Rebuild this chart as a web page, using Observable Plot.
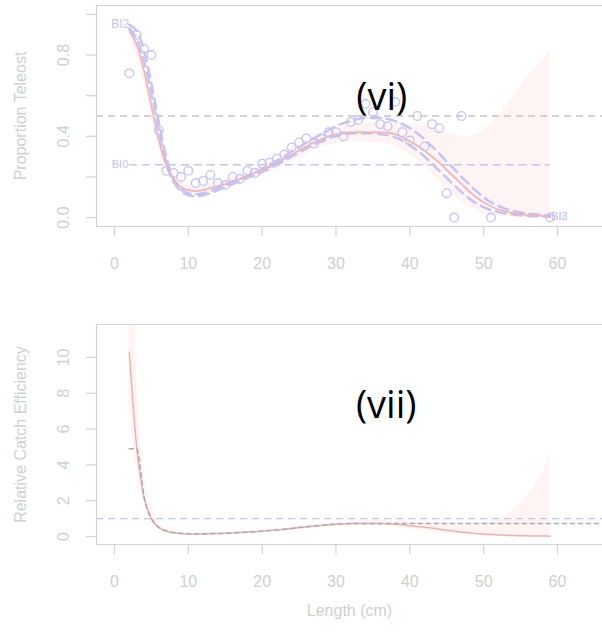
<!DOCTYPE html>
<html><head><meta charset="utf-8">
<script src="https://cdn.jsdelivr.net/npm/d3@7"></script>
<script src="https://cdn.jsdelivr.net/npm/@observablehq/plot@0.6"></script>
<style>
body{margin:0;background:#fff;}
#wrap{position:relative;width:602px;height:634px;overflow:hidden;background:#fff;}
#wrap svg{position:absolute;left:0;}
</style></head><body><div id="wrap"></div>
<script>
// ---------- data ----------
const lengths = [2,3,4,5,6,7,8,9,10,11,12,13,14,15,16,17,18,19,20,21,22,23,24,25,26,27,28,29,30,31,32,33,34,35,36,37,38,39,40,41,42,43,44,45,46,47,48,49,50,51,52,53,54,55,56,57,58,59];

// panel (vi): proportion teleost
const obsLength = [2,3,4,5,6,7,8,9,10,11,12,13,14,15,16,17,18,19,20,21,22,23,24,25,26,27,28,29,30,31,32,33,34,35,36,37,38,39,40,41,42,43,44,45,46,47,51,59];
const obsProp = [0.71,0.90,0.83,0.80,0.43,0.23,0.22,0.20,0.23,0.17,0.18,0.21,0.17,0.16,0.20,0.19,0.23,0.22,0.265,0.27,0.29,0.31,0.345,0.37,0.39,0.365,0.39,0.42,0.42,0.40,0.47,0.48,0.56,0.52,0.46,0.45,0.57,0.42,0.38,0.50,0.35,0.46,0.44,0.12,0.0,0.50,0.0,0.0];

const fitProp = [0.92,0.85,0.72,0.55,0.38,0.26,0.19,0.15,0.135,0.13,
  0.135,0.145,0.155,0.165,0.18,0.19,0.205,0.22,0.235,0.25,
  0.27,0.29,0.31,0.33,0.35,0.37,0.385,0.40,0.41,0.415,
  0.42,0.42,0.42,0.42,0.42,0.418,0.41,0.395,0.375,0.355,
  0.33,0.30,0.27,0.235,0.20,0.165,0.13,0.10,0.075,0.055,
  0.04,0.03,0.022,0.017,0.013,0.01,0.008,0.007];
const propHi = [0.95,0.90,0.78,0.61,0.44,0.30,0.22,0.175,0.155,0.15,
  0.155,0.165,0.175,0.185,0.20,0.21,0.225,0.24,0.26,0.275,
  0.295,0.315,0.34,0.36,0.38,0.40,0.415,0.43,0.44,0.45,
  0.455,0.46,0.465,0.47,0.47,0.47,0.47,0.465,0.46,0.455,
  0.45,0.44,0.43,0.42,0.41,0.40,0.40,0.41,0.43,0.46,
  0.50,0.55,0.60,0.65,0.70,0.74,0.78,0.82];
const propLo = [0.88,0.80,0.66,0.49,0.33,0.22,0.165,0.13,0.115,0.11,
  0.115,0.125,0.135,0.145,0.16,0.17,0.185,0.20,0.21,0.225,
  0.24,0.26,0.28,0.295,0.31,0.33,0.345,0.355,0.365,0.37,
  0.375,0.375,0.375,0.37,0.365,0.36,0.35,0.33,0.31,0.28,
  0.25,0.215,0.18,0.145,0.11,0.08,0.055,0.035,0.02,0.012,
  0.007,0.004,0.003,0.002,0.001,0.001,0.001,0.001];
const bi2Prop = [0.95,0.92,0.82,0.66,0.47,0.30,0.19,0.14,0.12,0.115,
  0.12,0.13,0.145,0.16,0.175,0.19,0.205,0.22,0.24,0.26,
  0.28,0.30,0.325,0.345,0.37,0.39,0.41,0.43,0.45,0.465,
  0.475,0.485,0.49,0.49,0.49,0.485,0.475,0.46,0.44,0.415,
  0.385,0.35,0.315,0.275,0.24,0.20,0.165,0.13,0.10,0.075,
  0.057,0.043,0.033,0.025,0.02,0.016,0.013,0.011];
const bi3Prop = [0.93,0.88,0.77,0.61,0.43,0.27,0.175,0.13,0.11,0.105,
  0.11,0.12,0.135,0.15,0.165,0.18,0.195,0.21,0.225,0.24,
  0.26,0.28,0.30,0.32,0.34,0.36,0.375,0.39,0.40,0.41,
  0.415,0.415,0.415,0.415,0.41,0.405,0.395,0.38,0.355,0.33,
  0.30,0.265,0.23,0.195,0.16,0.125,0.095,0.07,0.05,0.037,
  0.027,0.02,0.015,0.011,0.008,0.006,0.005,0.004];
const halfLevel = 0.5;
const bi0Level = 0.26;

// panel (vii): relative catch efficiency
const fitEff = [10.3,5.0,2.2,1.0,0.5,0.31,0.21,0.17,0.15,0.14,
  0.145,0.155,0.17,0.18,0.2,0.22,0.245,0.27,0.3,0.33,
  0.37,0.4,0.45,0.5,0.54,0.59,0.62,0.66,0.69,0.70,
  0.72,0.72,0.72,0.72,0.72,0.71,0.69,0.65,0.6,0.56,
  0.52,0.47,0.41,0.35,0.3,0.25,0.21,0.17,0.14,0.11,
  0.09,0.07,0.055,0.045,0.035,0.03,0.025,0.02];
const effHi = [30,9,3.5,1.6,0.75,0.43,0.28,0.21,0.18,0.17,
  0.18,0.19,0.21,0.23,0.25,0.27,0.29,0.32,0.35,0.38,
  0.42,0.46,0.52,0.56,0.61,0.67,0.71,0.75,0.79,0.82,
  0.84,0.85,0.87,0.89,0.89,0.89,0.89,0.87,0.85,0.83,
  0.82,0.79,0.75,0.72,0.7,0.67,0.67,0.7,0.75,0.85,
  1.0,1.22,1.5,1.85,2.3,2.85,3.55,4.8];
const effLo = [7,3.8,1.9,0.85,0.45,0.26,0.18,0.15,0.13,0.12,
  0.13,0.14,0.15,0.16,0.18,0.2,0.22,0.24,0.26,0.28,
  0.31,0.35,0.38,0.41,0.44,0.49,0.52,0.55,0.57,0.58,
  0.6,0.6,0.6,0.59,0.57,0.56,0.54,0.49,0.45,0.39,
  0.33,0.27,0.22,0.17,0.12,0.09,0.06,0.04,0.02,0.012,
  0.007,0.004,0.003,0.002,0.001,0.001,0.001,0.001];
const greyLength = [2,3,4,5,6,7,8,9,10,11,12,13,14,15,16,17,18,19,20,21,22,23,24,25,26,27,28,29,30,31,32,33,34,35,66];
const greyEff = [4.9,4.9,2.2,1.0,0.5,0.31,0.21,0.17,0.15,0.14,
  0.145,0.155,0.17,0.18,0.2,0.22,0.245,0.27,0.3,0.33,
  0.37,0.4,0.45,0.5,0.54,0.59,0.62,0.66,0.69,0.70,
  0.72,0.72,0.72,0.72,0.72];
const unitLevel = 1;

const xTicks = [0,10,20,30,40,50,60];
const propTicks = [0,0.2,0.4,0.6,0.8,1.0];
const propTickLabels = ["0.0","","0.4","","0.8",""];
const effTicks = [0,2,4,6,8,10];
const effTickLabels = ["0","2","4","6","8","10"];

// ---------- style ----------
const FONT = "'Liberation Sans', Arial, Helvetica, sans-serif";
const AX = "#d3d3d3";
const TXT = "#d0d0d0";
const LAV = "#c3c3f5";
const PINK = "#f4b0ae";
const BAND = "#fef4f4";
const GREY = "#c4c4c4";
const xDomain = [-2.44, 66.1];

const idx = lengths.map((_, i) => i);
const obs = obsLength.map((l, i) => ({l, p: obsProp[i]}));

function frameMarks(yDomain) {
  return [
    Plot.ruleY([yDomain[1]], {stroke: AX, strokeWidth: 1.2}),
    Plot.ruleY([yDomain[0]], {stroke: AX, strokeWidth: 1.2}),
    Plot.ruleX([xDomain[0]], {stroke: AX, strokeWidth: 1.2})
  ];
}
function axisMarks(yTicks, yLabels, yTitle) {
  return [
    Plot.axisX({ticks: xTicks, tickSize: 10, tickPadding: 21, fontSize: 16, color: AX, fill: TXT, label: null, strokeWidth: 1.2}),
    Plot.axisY({ticks: yTicks, tickSize: 10, tickFormat: () => "", label: null, color: AX, strokeWidth: 1.2}),
    Plot.text(yTicks, {y: d => d, text: (d, i) => yLabels[i], frameAnchor: "left", dx: -33, rotate: -90, lineAnchor: "middle", textAnchor: "middle", fontSize: 16, fill: TXT}),
    Plot.text([yTitle], {frameAnchor: "left", dx: -76, rotate: -90, lineAnchor: "middle", textAnchor: "middle", fontSize: 16, fill: TXT})
  ];
}

const wrap = document.getElementById("wrap");

// ---------- panel (vi) ----------
const yDomTop = [-0.044, 1.044];
const topPlot = Plot.plot({
  width: 602, height: 280,
  marginLeft: 96, marginRight: 0, marginTop: 5, marginBottom: 54,
  style: {fontFamily: FONT, background: "transparent", overflow: "visible"},
  x: {domain: xDomain},
  y: {domain: yDomTop},
  marks: [
    Plot.areaY(idx, {x: i => lengths[i], y1: i => propLo[i], y2: i => propHi[i], fill: BAND, curve: "catmull-rom", clip: true}),
    Plot.ruleY([halfLevel], {stroke: GREY, strokeWidth: 1.3, strokeDasharray: "7,5"}),
    Plot.ruleY([bi0Level], {x1: lengths[0], x2: lengths[lengths.length - 1], stroke: LAV, strokeWidth: 1.5, strokeDasharray: "8,5"}),
    Plot.line(idx, {x: i => lengths[i], y: i => bi2Prop[i], stroke: LAV, strokeWidth: 2.4, strokeDasharray: "10,6", curve: "catmull-rom"}),
    Plot.line(idx, {x: i => lengths[i], y: i => bi3Prop[i], stroke: LAV, strokeWidth: 2.4, strokeDasharray: "10,6", curve: "catmull-rom"}),
    Plot.line(idx, {x: i => lengths[i], y: i => fitProp[i], stroke: PINK, strokeWidth: 1.6, curve: "catmull-rom"}),
    Plot.dot(obs, {x: "l", y: "p", r: 4.3, stroke: LAV, strokeWidth: 1.3, fill: "none"}),
    Plot.text(["BI0"], {x: lengths[0], y: bi0Level, textAnchor: "end", dx: -1, fontSize: 11, fill: LAV}),
    Plot.text(["BI2"], {x: lengths[0], y: bi2Prop[0], textAnchor: "end", dx: 0, fontSize: 12, fill: LAV}),
    Plot.text(["BI2", "BI3"], {x: lengths[lengths.length - 1], y: bi3Prop[bi3Prop.length - 1], textAnchor: "start", dx: 1, fontSize: 11, fill: LAV, fillOpacity: 0.8}),
    Plot.text(["(vi)"], {x: 36.2, y: 0.59, fontSize: 38, fill: "#000", fontFamily: "'Open Sans', sans-serif", lineAnchor: "middle"}),
    ...frameMarks(yDomTop),
    ...axisMarks(propTicks, propTickLabels, "Proportion Teleost")
  ]
});
topPlot.style.top = "0px";
wrap.appendChild(topPlot);

// ---------- panel (vii) ----------
const yDomBot = [-0.447, 11.84];
const botPlot = Plot.plot({
  width: 602, height: 354,
  marginLeft: 96, marginRight: 0, marginTop: 44, marginBottom: 90,
  style: {fontFamily: FONT, background: "transparent", overflow: "visible"},
  x: {domain: xDomain},
  y: {domain: yDomBot},
  marks: [
    Plot.areaY(idx, {x: i => lengths[i], y1: i => effLo[i], y2: i => effHi[i], fill: BAND, curve: "monotone-x", clip: true}),
    Plot.ruleY([unitLevel], {stroke: LAV, strokeWidth: 1.3, strokeDasharray: "7,5"}),
    Plot.line(idx, {x: i => lengths[i], y: i => fitEff[i], stroke: PINK, strokeWidth: 1.5, curve: "monotone-x"}),
    Plot.line(greyLength, {x: d => d, y: (d, i) => greyEff[i], stroke: "#a9a9a9", strokeWidth: 1.5, strokeDasharray: "4,4", curve: "monotone-x"}),
    Plot.text(["(vii)"], {x: 36.8, y: 7.3, fontSize: 38, fill: "#000", fontFamily: "'Open Sans', sans-serif", lineAnchor: "middle"}),
    Plot.text(["Length (cm)"], {frameAnchor: "bottom", dy: 66, fontSize: 16, fill: TXT, lineAnchor: "middle"}),
    ...frameMarks(yDomBot),
    ...axisMarks(effTicks, effTickLabels, "Relative Catch Efficiency")
  ]
});
botPlot.style.top = "280px";
wrap.appendChild(botPlot);
</script>
</body></html>
